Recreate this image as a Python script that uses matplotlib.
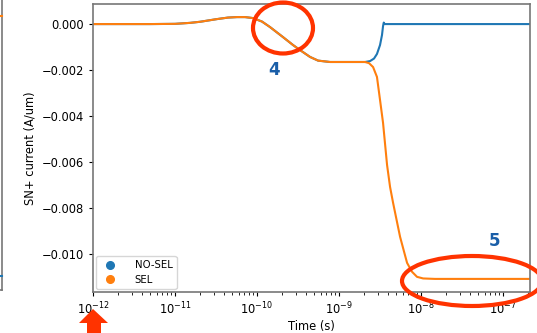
import numpy as np
import matplotlib
matplotlib.use("Agg")
import matplotlib.pyplot as plt
from matplotlib.lines import Line2D
from matplotlib.patches import Ellipse, Polygon

# SN+ transient current, SEL case
t_sel = [1.0e-12, 4.95e-12, 1.0e-11, 1.52e-11, 2.02e-11, 3.25e-11, 4.43e-11,
         5.70e-11, 7.14e-11, 8.93e-11, 1.15e-10, 1.44e-10, 2.07e-10, 2.75e-10,
         3.34e-10, 4.43e-10, 5.55e-10, 7.76e-10, 2.07e-9, 2.32e-9, 2.60e-9,
         2.90e-9, 3.16e-9, 3.44e-9, 3.85e-9, 4.19e-9, 4.56e-9, 5.09e-9,
         5.55e-9, 6.21e-9, 6.75e-9, 7.76e-9, 8.93e-9, 1.06e-8, 1.48e-8, 2.13e-7]
i_sel = [0.0, 0.0, 1.0e-5, 5.2e-5, 1.0e-4, 2.17e-4, 2.83e-4,
         3.04e-4, 3.04e-4, 2.61e-4, 1.09e-4, -1.30e-4, -5.65e-4, -9.13e-4,
         -1.13e-3, -1.43e-3, -1.59e-3, -1.65e-3, -1.65e-3, -1.70e-3, -1.87e-3,
         -2.30e-3, -3.30e-3, -4.30e-3, -6.13e-3, -7.09e-3, -7.78e-3, -8.61e-3,
         -9.26e-3, -9.91e-3, -1.039e-2, -1.078e-2, -1.100e-2, -1.107e-2, -1.109e-2, -1.109e-2]

# NO-SEL case: identical until the recovery near 3 ns
t_nosel = t_sel[:19] + [2.39e-9, 2.67e-9, 2.90e-9, 3.16e-9, 3.34e-9, 3.44e-9,
                        3.51e-9, 3.59e-9, 2.13e-7]
i_nosel = i_sel[:19] + [-1.61e-3, -1.50e-3, -1.30e-3, -9.13e-4, -4.78e-4, -8.7e-5,
                        6.5e-5, 0.0, 0.0]

x_ticks = [1e-12, 1e-11, 1e-10, 1e-9, 1e-8, 1e-7]

W, H = 537, 333
fs = 8.3
plt.rcParams['font.size'] = fs

fig = plt.figure(figsize=(W / 100, H / 100), dpi=100)

def fx(x):
    return x / W

def fy(y):
    return 1 - y / H

# right edge of the previous panel, with the ends of its two curves
fig.add_artist(Line2D([fx(2), fx(2)], [fy(290), 1.0], color='#777777', lw=1.2))
fig.add_artist(Line2D([0, fx(2)], [fy(290), fy(290)], color='#777777', lw=1.2))
fig.add_artist(Line2D([0, fx(1.5)], [fy(16), fy(16)], color='C1', lw=1.5))
fig.add_artist(Line2D([0, fx(1.5)], [fy(276), fy(276)], color='C0', lw=1.5))

ax = fig.add_axes([fx(93), fy(292), fx(530) - fx(93), fy(4) - fy(292)])
ax.plot(t_nosel, i_nosel, color='C0', lw=1.5)
ax.plot(t_sel, i_sel, color='C1', lw=1.5)
ax.set_xscale('log')
ax.set_xticks(x_ticks)
ax.set_xlim(1e-12, 2.13e-7)
ax.set_xlabel('Time (s)', fontsize=fs, labelpad=2)
ax.set_ylabel('SN+ current (A/um)', fontsize=fs, labelpad=4)
ax.tick_params(labelsize=fs, length=3)
ax.tick_params(which='minor', length=2)
for s in ax.spines.values():
    s.set_color('#777777')
    s.set_linewidth(1.2)

handles = [Line2D([], [], marker='o', ls='', color='C0', markersize=5.5),
           Line2D([], [], marker='o', ls='', color='C1', markersize=5.5)]
ax.legend(handles, ['NO-SEL', 'SEL'], loc='lower left', fontsize=7.3,
          handletextpad=1.4, borderaxespad=0.3, labelspacing=0.45,
          framealpha=0.8)

# annotations on top of the figure
red = '#ff3300'
blue = '#1a5ea8'
fig.patches.append(Ellipse((fx(283), fy(28)), 60 / W, 51 / H, fill=False,
                           ec=red, lw=3, transform=fig.transFigure, figure=fig))
fig.patches.append(Ellipse((fx(472), fy(281)), 140 / W, 50 / H, fill=False,
                           ec=red, lw=3, transform=fig.transFigure, figure=fig))
fig.text(fx(274), fy(70), '4', color=blue, fontsize=12, fontweight='bold',
         ha='center', va='center')
fig.text(fx(494), fy(241), '5', color=blue, fontsize=12, fontweight='bold',
         ha='center', va='center')
arrow = [(93, 309), (108, 323), (101, 323), (101, 340), (87, 340), (87, 323), (79, 323)]
fig.patches.append(Polygon([(fx(x), fy(y)) for x, y in arrow], closed=True,
                           fc=red, ec='none', transform=fig.transFigure, figure=fig))

fig.savefig('out.png', dpi=100)
